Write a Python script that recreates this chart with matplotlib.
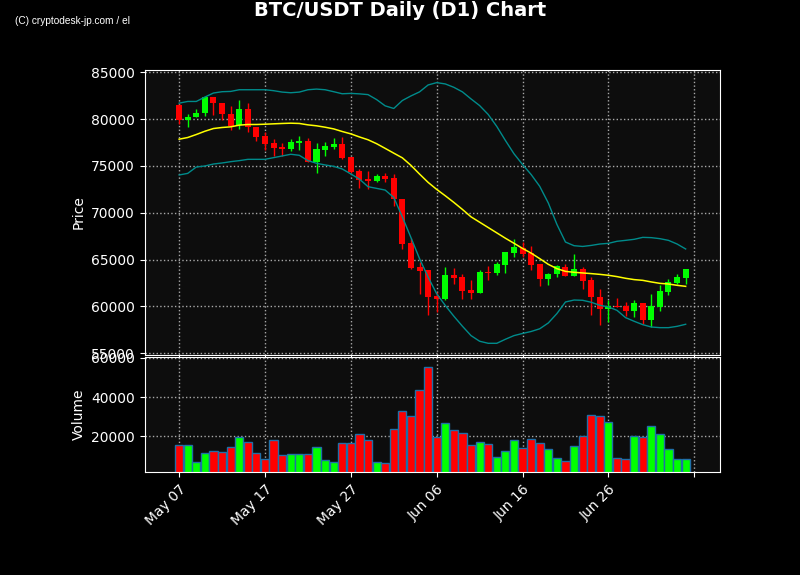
import numpy as np
import pandas as pd
import matplotlib
matplotlib.use("Agg")
import matplotlib.pyplot as plt
from matplotlib.ticker import FuncFormatter, FixedLocator

# daily candles, May 07 -> Jul 05
dates = pd.date_range("2024-05-07", periods=60, freq="D")

opens = [81540, 79960, 80180, 80610, 82320, 81750, 80570, 79360, 81110, 79180,
         78210, 77460, 77040, 76820, 77460, 77680, 75430, 76750, 77040, 77360,
         75960, 74460, 73610, 73430, 73930, 73750, 71460, 66750, 64180, 63860,
         61110, 60790, 63320, 63110, 61710, 61430, 63680, 63540, 64390, 65680,
         66290, 65750, 64500, 62900, 63470, 64250, 63260, 64040, 62790, 61050,
         59730, 60090, 60020, 59520, 60340, 58560, 59950, 61550, 62470, 63040]
highs = [81600, 80540, 81070, 82460, 82400, 81750, 81430, 82040, 81710, 79180,
         78610, 77860, 77430, 77890, 78210, 77960, 77430, 77540, 77960, 78070,
         76000, 74640, 74500, 74110, 74290, 74110, 71500, 67360, 64750, 63900,
         61540, 64250, 64140, 63460, 62860, 63930, 64320, 64750, 65800, 67250,
         66890, 66420, 64550, 63550, 64400, 64570, 65640, 64250, 63150, 61900,
         60660, 60940, 60480, 60730, 60400, 61370, 62260, 62970, 63430, 64000]
lows = [79460, 79140, 80180, 80320, 80460, 79890, 78790, 78930, 78680, 77640,
        76750, 76040, 76110, 76570, 76680, 75430, 74290, 76110, 76860, 75710,
        74300, 72680, 72540, 73250, 73320, 70710, 66180, 63960, 61360, 59110,
        59460, 60710, 62430, 60750, 60750, 61400, 62820, 63360, 63570, 65320,
        65290, 63930, 62220, 62330, 63190, 63220, 63230, 61900, 59130, 58060,
        58350, 59910, 58950, 58880, 58170, 57810, 59560, 61260, 62400, 62440]
closes = [79930, 80250, 80710, 82320, 81680, 80500, 79320, 81110, 79110, 78140,
          77390, 76960, 76820, 77570, 77710, 75460, 76820, 77140, 77360, 75890,
          74390, 73500, 73390, 73930, 73640, 71430, 66680, 64110, 63790, 61000,
          60790, 63320, 63040, 61640, 61430, 63640, 63540, 64500, 65790, 66320,
          65610, 64390, 62900, 63500, 64320, 63260, 64040, 62690, 61010, 59700,
          60090, 59950, 59520, 60340, 58560, 60020, 61620, 62580, 63110, 63970]
volumes = [15900, 15900, 7180, 11800, 12820, 12310, 14870, 19490, 17440, 11800,
           8380, 18460, 10770, 11280, 11280, 11280, 14870, 8210, 7180, 16920,
           16920, 21030, 18460, 7180, 6500, 23590, 32820, 30260, 43590, 55380,
           19490, 26670, 23080, 21540, 15900, 17440, 16410, 9740, 12820, 18460,
           14360, 18970, 16920, 13850, 9230, 7690, 15380, 20000, 30770, 30260,
           27180, 9230, 8720, 20000, 19490, 25130, 21030, 13850, 8720, 8720]

# moving average and bollinger bands as drawn
ma = [77860, 78040, 78360, 78710, 79000, 79110, 79180, 79360, 79430, 79430,
      79460, 79500, 79540, 79570, 79540, 79390, 79290, 79140, 78960, 78680,
      78430, 78100, 77800, 77380, 76880, 76370, 75870, 75070, 74140, 73250,
      72500, 71820, 71110, 70360, 69570, 69000, 68430, 67860, 67290, 66750,
      66200, 65700, 65110, 64500, 64040, 63750, 63650, 63580, 63510, 63430,
      63330, 63190, 63010, 62870, 62790, 62620, 62470, 62400, 62260, 62150]
upper = [81710, 81890, 81890, 82360, 82790, 82930, 82960, 83140, 83140, 83140,
         83140, 83040, 82890, 82820, 82890, 83140, 83210, 83140, 82930, 82710,
         82750, 82700, 82620, 82090, 81420, 81140, 81990, 82480, 82910, 83650,
         83900, 83760, 83400, 82910, 82160, 81450, 80500, 79220, 77730, 76310,
         75160, 74090, 72830, 71050, 68770, 66880, 66490, 66410, 66520, 66670,
         66740, 66960, 67060, 67170, 67380, 67350, 67240, 67060, 66670, 66140]
lower = [74040, 74210, 74890, 75000, 75210, 75320, 75460, 75570, 75710, 75710,
         75710, 75890, 76070, 76250, 76140, 75570, 75290, 75110, 74960, 74680,
         74150, 73600, 72790, 72610, 72430, 71640, 69570, 67360, 65110, 63140,
         61360, 60110, 58960, 57890, 56890, 56290, 56070, 56070, 56500, 56890,
         57120, 57330, 57620, 58240, 59240, 60480, 60690, 60660, 60450, 60130,
         59950, 59590, 58810, 58420, 58060, 57810, 57740, 57740, 57880, 58100]

UP = "#00ff00"
DOWN = "#ff0000"
FACE = "#0d0d0d"

o = np.array(opens)
c = np.array(closes)
x = np.arange(len(dates))
colors = [UP if cc >= oo else DOWN for oo, cc in zip(o, c)]

fig = plt.figure(figsize=(8, 5.75), dpi=100, facecolor="black")
ax = fig.add_axes([0.181, 0.3826, 0.719, 0.4957], facecolor=FACE)
axv = fig.add_axes([0.181, 0.1786, 0.719, 0.2003], facecolor=FACE, sharex=ax)

# candles
ax.vlines(x, lows, highs, colors=colors, linewidth=1, zorder=2)
ax.bar(x, np.abs(c - o), bottom=np.minimum(o, c), width=0.7, color=colors,
       linewidth=0, zorder=3)
ax.plot(x, ma, color="yellow", linewidth=1.1, zorder=4)
ax.plot(x, upper, color="#008b8b", linewidth=1, zorder=4)
ax.plot(x, lower, color="#008b8b", linewidth=1, zorder=4)

axv.bar(x, volumes, width=0.95, color=colors, edgecolor="#1f6fa8", linewidth=1)

ax.set_xlim(-4, 63)
ax.set_ylim(54820, 85250)
axv.set_ylim(1800, 60300)
ax.set_yticks([55000, 60000, 65000, 70000, 75000, 80000, 85000])
axv.set_yticks([20000, 40000, 60000])


def date_fmt(v, pos):
    i = int(round(v))
    if 0 <= i < len(dates):
        return dates[i].strftime("%b %d")
    return ""


axv.xaxis.set_major_locator(FixedLocator(np.arange(0, 61, 10)))
axv.xaxis.set_major_formatter(FuncFormatter(date_fmt))
plt.setp(ax.get_xticklabels(), visible=False)
for lab in axv.get_xticklabels():
    lab.set_rotation(45)
    lab.set_ha("right")
    lab.set_rotation_mode("anchor")

for a in (ax, axv):
    a.grid(True, color="#a8a8a8", linestyle=":", linewidth=1)
    a.set_axisbelow(True)
    a.tick_params(colors="white", labelsize=10)
    for s in a.spines.values():
        s.set_color("white")

ax.set_ylabel("Price", color="white", fontsize=10)
axv.set_ylabel("Volume", color="white", fontsize=10)

fig.text(0.5, 0.981, "BTC/USDT Daily (D1) Chart", color="white", fontsize=14,
         fontweight="bold", ha="center", va="center")
fig.text(0.019, 0.9635, "(C) cryptodesk-jp.com / el", color="white", fontsize=7.3,
         family="Liberation Sans", ha="left", va="center")

fig.savefig("out.png", facecolor="black")
